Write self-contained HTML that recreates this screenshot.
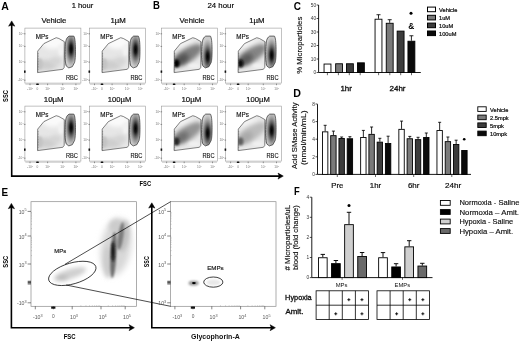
<!DOCTYPE html>
<html><head><meta charset="utf-8"><title>Figure</title>
<style>
html,body{margin:0;padding:0;background:#fff;}
body{width:520px;height:342px;overflow:hidden;}
svg{display:block;will-change:transform;}
text{font-family:"Liberation Sans",sans-serif;}
</style></head>
<body>
<svg width="520" height="342" viewBox="0 0 520 342">
<rect width="520" height="342" fill="#fff"/>

<defs>
 <filter id="b05" x="-50%" y="-50%" width="200%" height="200%"><feGaussianBlur stdDeviation="0.5"/></filter>
 <filter id="b1" x="-50%" y="-50%" width="200%" height="200%"><feGaussianBlur stdDeviation="1"/></filter>
 <filter id="b2" x="-50%" y="-50%" width="200%" height="200%"><feGaussianBlur stdDeviation="2"/></filter>
 <filter id="b3" x="-50%" y="-50%" width="200%" height="200%"><feGaussianBlur stdDeviation="3"/></filter>
 <clipPath id="mpclip"><polygon points="12.8,23 19,15.5 31.3,9.6 34,10.4 39.4,13.5 39.3,39.3 37.9,41.2 12.6,44.5"/></clipPath>
 <g id="axes">
  <rect x="0" y="0" width="56" height="55" fill="none" stroke="#9a9a9a" stroke-width="0.6"/>
  <path d="M0.5,56.2 H55.5" stroke="#b0b0b0" stroke-width="0.6"/>
  <g stroke="#555" stroke-width="0.6">
   <path d="M-1,5.7h1.6M-1,18.3h1.6M-1,34h1.6M-1,52.1h1.6M5.1,55.5v1.6M22.7,55.5v1.6M37.8,55.5v1.6M51,55.5v1.6"/>
  </g>
  <rect x="-0.9" y="42.4" width="1.6" height="2.3" fill="#111"/>
  <rect x="11.3" y="55.4" width="2.6" height="1.6" rx="0.5" fill="#111"/>
  <g font-size="3.2" fill="#777" text-anchor="end">
   <text x="-1.4" y="6.8">10<tspan font-size="2" dy="-1.2">5</tspan></text>
   <text x="-1.4" y="19.4">10<tspan font-size="2" dy="-1.2">4</tspan></text>
   <text x="-1.4" y="35.1">10<tspan font-size="2" dy="-1.2">3</tspan></text>
   <text x="-1.4" y="53.2">-10<tspan font-size="2" dy="-1.2">3</tspan></text>
  </g>
  <g font-size="3.2" fill="#777" text-anchor="middle">
   <text x="5.1" y="62">-10<tspan font-size="2" dy="-1.2">3</tspan></text>
   <text x="12.6" y="61.5">0</text>
   <text x="22.7" y="62">10<tspan font-size="2" dy="-1.2">3</tspan></text>
   <text x="37.8" y="62">10<tspan font-size="2" dy="-1.2">4</tspan></text>
   <text x="51" y="62">10<tspan font-size="2" dy="-1.2">5</tspan></text>
  </g>
  <text x="10.8" y="10.9" font-size="6.5" fill="#111" stroke="#111" stroke-width="0.15" textLength="12.6" lengthAdjust="spacingAndGlyphs">MPs</text>
  <text x="41.0" y="52.2" font-size="6.6" fill="#111" stroke="#111" stroke-width="0.12" textLength="12" lengthAdjust="spacingAndGlyphs">RBC</text>
 </g>
</defs>

<text x="1.2" y="9.7" font-size="11.7" text-anchor="start" font-weight="bold" fill="#000" textLength="7.6" lengthAdjust="spacingAndGlyphs" >A</text>
<text x="153.0" y="9.4" font-size="11.7" text-anchor="start" font-weight="bold" fill="#000" textLength="6.9" lengthAdjust="spacingAndGlyphs" >B</text>
<text x="71.7" y="8.2" font-size="7.9" text-anchor="start" font-weight="normal" fill="#000" textLength="21.5" lengthAdjust="spacingAndGlyphs" stroke="#000" stroke-width="0.15">1 hour</text>
<text x="207.5" y="8.2" font-size="7.9" text-anchor="start" font-weight="normal" fill="#000" textLength="26.5" lengthAdjust="spacingAndGlyphs" stroke="#000" stroke-width="0.15">24 hour</text>
<defs><clipPath id="rbcclip"><path d="M44.2,8 L48.9,8 C50,9.5 50.5,14 50.6,21.4 C50.6,28 50.3,32 49.7,34.3 L47.4,38.6 L43.9,39.8 L41.4,38 C40.5,35 40,31 40,27.3 C40,22 40.3,17 40.7,14.4 C41.1,11.5 41.9,10 42.9,9 Z"/></clipPath></defs>
<g transform="translate(24.9 28.1)">
<use href="#axes"/>
<g clip-path="url(#mpclip)">
<rect x="10" y="8" width="32" height="38" fill="#e6e6e6"/>
<ellipse cx="28" cy="14" rx="12" ry="7" fill="#fafafa" filter="url(#b2)"/>
<ellipse cx="21" cy="37" rx="11" ry="5" fill="#cdcdcd" filter="url(#b2)"/>
<ellipse cx="15" cy="36" rx="3" ry="6" fill="#c4c4c4" filter="url(#b1)"/>
<ellipse cx="31" cy="33" rx="6" ry="4" fill="#d4d4d4" filter="url(#b2)"/>
<ellipse cx="36" cy="22" rx="3" ry="6" fill="#f2f2f2" filter="url(#b1)"/>
</g>
<polygon points="12.8,23 19,15.5 31.3,9.6 34,10.4 39.4,13.5 39.3,39.3 37.9,41.2 12.6,44.5" fill="none" stroke="#333" stroke-width="0.6"/>
<path d="M13.2,25 V44" stroke="#666" stroke-width="0.7" stroke-dasharray="0.8 0.8"/>
<radialGradient id="rg1" cx="46.2" cy="20.7" r="16" gradientUnits="userSpaceOnUse" gradientTransform="translate(46.2 20.7) scale(0.4 1.1) translate(-46.2 -20.7)"><stop offset="0" stop-color="#000"/><stop offset="0.22" stop-color="#1a1a1a"/><stop offset="0.45" stop-color="#5e5e5e"/><stop offset="0.68" stop-color="#959595"/><stop offset="0.85" stop-color="#b4b4b4"/><stop offset="1" stop-color="#cccccc"/></radialGradient>
<g clip-path="url(#rbcclip)"><rect x="38" y="5" width="16" height="38" fill="url(#rg1)"/></g>
<path d="M44.2,8 L48.9,8 C50,9.5 50.5,14 50.6,21.4 C50.6,28 50.3,32 49.7,34.3 L47.4,38.6 L43.9,39.8 L41.4,38 C40.5,35 40,31 40,27.3 C40,22 40.3,17 40.7,14.4 C41.1,11.5 41.9,10 42.9,9 Z" fill="none" stroke="#222" stroke-width="0.65"/>
<path d="M40.5,14 V37" stroke="#555" stroke-width="0.6" stroke-dasharray="0.8 0.8"/>
</g>
<g transform="translate(24.9 106.1)">
<use href="#axes"/>
<g clip-path="url(#mpclip)">
<rect x="10" y="8" width="32" height="38" fill="#e6e6e6"/>
<ellipse cx="28" cy="14" rx="12" ry="7" fill="#fafafa" filter="url(#b2)"/>
<ellipse cx="21" cy="37" rx="11" ry="5" fill="#cdcdcd" filter="url(#b2)"/>
<ellipse cx="15" cy="36" rx="3" ry="6" fill="#c4c4c4" filter="url(#b1)"/>
<ellipse cx="31" cy="33" rx="6" ry="4" fill="#d4d4d4" filter="url(#b2)"/>
<ellipse cx="36" cy="22" rx="3" ry="6" fill="#f2f2f2" filter="url(#b1)"/>
</g>
<polygon points="12.8,23 19,15.5 31.3,9.6 34,10.4 39.4,13.5 39.3,39.3 37.9,41.2 12.6,44.5" fill="none" stroke="#333" stroke-width="0.6"/>
<path d="M13.2,25 V44" stroke="#666" stroke-width="0.7" stroke-dasharray="0.8 0.8"/>
<radialGradient id="rg2" cx="46.2" cy="21.5" r="16" gradientUnits="userSpaceOnUse" gradientTransform="translate(46.2 21.5) scale(0.4 1.1) translate(-46.2 -21.5)"><stop offset="0" stop-color="#000"/><stop offset="0.22" stop-color="#1a1a1a"/><stop offset="0.45" stop-color="#5e5e5e"/><stop offset="0.68" stop-color="#959595"/><stop offset="0.85" stop-color="#b4b4b4"/><stop offset="1" stop-color="#cccccc"/></radialGradient>
<g clip-path="url(#rbcclip)"><rect x="38" y="5" width="16" height="38" fill="url(#rg2)"/></g>
<path d="M44.2,8 L48.9,8 C50,9.5 50.5,14 50.6,21.4 C50.6,28 50.3,32 49.7,34.3 L47.4,38.6 L43.9,39.8 L41.4,38 C40.5,35 40,31 40,27.3 C40,22 40.3,17 40.7,14.4 C41.1,11.5 41.9,10 42.9,9 Z" fill="none" stroke="#222" stroke-width="0.65"/>
<path d="M40.5,14 V37" stroke="#555" stroke-width="0.6" stroke-dasharray="0.8 0.8"/>
</g>
<g transform="translate(89.4 28.1)">
<use href="#axes"/>
<g clip-path="url(#mpclip)">
<rect x="10" y="8" width="32" height="38" fill="#e6e6e6"/>
<ellipse cx="28" cy="14" rx="12" ry="7" fill="#fafafa" filter="url(#b2)"/>
<ellipse cx="21" cy="37" rx="11" ry="5" fill="#cdcdcd" filter="url(#b2)"/>
<ellipse cx="15" cy="36" rx="3" ry="6" fill="#c4c4c4" filter="url(#b1)"/>
<ellipse cx="31" cy="33" rx="6" ry="4" fill="#d4d4d4" filter="url(#b2)"/>
<ellipse cx="36" cy="22" rx="3" ry="6" fill="#f2f2f2" filter="url(#b1)"/>
</g>
<polygon points="12.8,23 19,15.5 31.3,9.6 34,10.4 39.4,13.5 39.3,39.3 37.9,41.2 12.6,44.5" fill="none" stroke="#333" stroke-width="0.6"/>
<path d="M13.2,25 V44" stroke="#666" stroke-width="0.7" stroke-dasharray="0.8 0.8"/>
<radialGradient id="rg3" cx="46.2" cy="21.5" r="16" gradientUnits="userSpaceOnUse" gradientTransform="translate(46.2 21.5) scale(0.4 1.1) translate(-46.2 -21.5)"><stop offset="0" stop-color="#000"/><stop offset="0.22" stop-color="#1a1a1a"/><stop offset="0.45" stop-color="#5e5e5e"/><stop offset="0.68" stop-color="#959595"/><stop offset="0.85" stop-color="#b4b4b4"/><stop offset="1" stop-color="#cccccc"/></radialGradient>
<g clip-path="url(#rbcclip)"><rect x="38" y="5" width="16" height="38" fill="url(#rg3)"/></g>
<path d="M44.2,8 L48.9,8 C50,9.5 50.5,14 50.6,21.4 C50.6,28 50.3,32 49.7,34.3 L47.4,38.6 L43.9,39.8 L41.4,38 C40.5,35 40,31 40,27.3 C40,22 40.3,17 40.7,14.4 C41.1,11.5 41.9,10 42.9,9 Z" fill="none" stroke="#222" stroke-width="0.65"/>
<path d="M40.5,14 V37" stroke="#555" stroke-width="0.6" stroke-dasharray="0.8 0.8"/>
</g>
<g transform="translate(89.4 106.1)">
<use href="#axes"/>
<g clip-path="url(#mpclip)">
<rect x="10" y="8" width="32" height="38" fill="#e6e6e6"/>
<ellipse cx="28" cy="14" rx="12" ry="7" fill="#fafafa" filter="url(#b2)"/>
<ellipse cx="21" cy="37" rx="11" ry="5" fill="#cdcdcd" filter="url(#b2)"/>
<ellipse cx="15" cy="36" rx="3" ry="6" fill="#c4c4c4" filter="url(#b1)"/>
<ellipse cx="31" cy="33" rx="6" ry="4" fill="#d4d4d4" filter="url(#b2)"/>
<ellipse cx="36" cy="22" rx="3" ry="6" fill="#f2f2f2" filter="url(#b1)"/>
</g>
<polygon points="12.8,23 19,15.5 31.3,9.6 34,10.4 39.4,13.5 39.3,39.3 37.9,41.2 12.6,44.5" fill="none" stroke="#333" stroke-width="0.6"/>
<path d="M13.2,25 V44" stroke="#666" stroke-width="0.7" stroke-dasharray="0.8 0.8"/>
<radialGradient id="rg4" cx="46.2" cy="22.5" r="16" gradientUnits="userSpaceOnUse" gradientTransform="translate(46.2 22.5) scale(0.4 1.1) translate(-46.2 -22.5)"><stop offset="0" stop-color="#000"/><stop offset="0.22" stop-color="#1a1a1a"/><stop offset="0.45" stop-color="#5e5e5e"/><stop offset="0.68" stop-color="#959595"/><stop offset="0.85" stop-color="#b4b4b4"/><stop offset="1" stop-color="#cccccc"/></radialGradient>
<g clip-path="url(#rbcclip)"><rect x="38" y="5" width="16" height="38" fill="url(#rg4)"/></g>
<path d="M44.2,8 L48.9,8 C50,9.5 50.5,14 50.6,21.4 C50.6,28 50.3,32 49.7,34.3 L47.4,38.6 L43.9,39.8 L41.4,38 C40.5,35 40,31 40,27.3 C40,22 40.3,17 40.7,14.4 C41.1,11.5 41.9,10 42.9,9 Z" fill="none" stroke="#222" stroke-width="0.65"/>
<path d="M40.5,14 V37" stroke="#555" stroke-width="0.6" stroke-dasharray="0.8 0.8"/>
</g>
<g transform="translate(161.5 28.1)">
<use href="#axes"/>
<g clip-path="url(#mpclip)">
<rect x="10" y="8" width="32" height="38" fill="#e8e8e8"/>
<ellipse cx="23" cy="16" rx="10" ry="5" fill="#f2f2f2" filter="url(#b2)"/>
<ellipse cx="26" cy="27" rx="17" ry="7" fill="#7f7f7f" filter="url(#b2)" transform="rotate(-33 26 27)"/>
<ellipse cx="20" cy="31.5" rx="8" ry="4.5" fill="#525252" filter="url(#b2)" transform="rotate(-35 20 31.5)"/>
<ellipse cx="15" cy="35.5" rx="3" ry="4" fill="#000000" filter="url(#b1)"/>
<ellipse cx="33" cy="38" rx="6" ry="2.5" fill="#f0f0f0" filter="url(#b1)"/>
</g>
<polygon points="12.8,23 19,15.5 31.3,9.6 34,10.4 39.4,13.5 39.3,39.3 37.9,41.2 12.6,44.5" fill="none" stroke="#333" stroke-width="0.6"/>
<path d="M13.2,25 V44" stroke="#666" stroke-width="0.7" stroke-dasharray="0.8 0.8"/>
<radialGradient id="rg5" cx="46.2" cy="28.5" r="16" gradientUnits="userSpaceOnUse" gradientTransform="translate(46.2 28.5) scale(0.4 1.1) translate(-46.2 -28.5)"><stop offset="0" stop-color="#000"/><stop offset="0.22" stop-color="#1a1a1a"/><stop offset="0.45" stop-color="#5e5e5e"/><stop offset="0.68" stop-color="#959595"/><stop offset="0.85" stop-color="#b4b4b4"/><stop offset="1" stop-color="#cccccc"/></radialGradient>
<g clip-path="url(#rbcclip)"><rect x="38" y="5" width="16" height="38" fill="url(#rg5)"/></g>
<path d="M44.2,8 L48.9,8 C50,9.5 50.5,14 50.6,21.4 C50.6,28 50.3,32 49.7,34.3 L47.4,38.6 L43.9,39.8 L41.4,38 C40.5,35 40,31 40,27.3 C40,22 40.3,17 40.7,14.4 C41.1,11.5 41.9,10 42.9,9 Z" fill="none" stroke="#222" stroke-width="0.65"/>
<path d="M40.5,14 V37" stroke="#555" stroke-width="0.6" stroke-dasharray="0.8 0.8"/>
</g>
<g transform="translate(161.5 106.1)">
<use href="#axes"/>
<g clip-path="url(#mpclip)">
<rect x="10" y="8" width="32" height="38" fill="#e8e8e8"/>
<ellipse cx="23" cy="16" rx="10" ry="5" fill="#f2f2f2" filter="url(#b2)"/>
<ellipse cx="26" cy="27" rx="17" ry="7" fill="#949494" filter="url(#b2)" transform="rotate(-33 26 27)"/>
<ellipse cx="20" cy="31.5" rx="8" ry="4.5" fill="#707070" filter="url(#b2)" transform="rotate(-35 20 31.5)"/>
<ellipse cx="15" cy="35.5" rx="3" ry="4" fill="#262626" filter="url(#b1)"/>
<ellipse cx="33" cy="38" rx="6" ry="2.5" fill="#f0f0f0" filter="url(#b1)"/>
</g>
<polygon points="12.8,23 19,15.5 31.3,9.6 34,10.4 39.4,13.5 39.3,39.3 37.9,41.2 12.6,44.5" fill="none" stroke="#333" stroke-width="0.6"/>
<path d="M13.2,25 V44" stroke="#666" stroke-width="0.7" stroke-dasharray="0.8 0.8"/>
<radialGradient id="rg6" cx="46.2" cy="27" r="16" gradientUnits="userSpaceOnUse" gradientTransform="translate(46.2 27) scale(0.4 1.1) translate(-46.2 -27)"><stop offset="0" stop-color="#000"/><stop offset="0.22" stop-color="#1a1a1a"/><stop offset="0.45" stop-color="#5e5e5e"/><stop offset="0.68" stop-color="#959595"/><stop offset="0.85" stop-color="#b4b4b4"/><stop offset="1" stop-color="#cccccc"/></radialGradient>
<g clip-path="url(#rbcclip)"><rect x="38" y="5" width="16" height="38" fill="url(#rg6)"/></g>
<path d="M44.2,8 L48.9,8 C50,9.5 50.5,14 50.6,21.4 C50.6,28 50.3,32 49.7,34.3 L47.4,38.6 L43.9,39.8 L41.4,38 C40.5,35 40,31 40,27.3 C40,22 40.3,17 40.7,14.4 C41.1,11.5 41.9,10 42.9,9 Z" fill="none" stroke="#222" stroke-width="0.65"/>
<path d="M40.5,14 V37" stroke="#555" stroke-width="0.6" stroke-dasharray="0.8 0.8"/>
</g>
<g transform="translate(225.5 28.1)">
<use href="#axes"/>
<g clip-path="url(#mpclip)">
<rect x="10" y="8" width="32" height="38" fill="#e8e8e8"/>
<ellipse cx="23" cy="16" rx="10" ry="5" fill="#f2f2f2" filter="url(#b2)"/>
<ellipse cx="26" cy="27" rx="17" ry="7" fill="#848484" filter="url(#b2)" transform="rotate(-33 26 27)"/>
<ellipse cx="20" cy="31.5" rx="8" ry="4.5" fill="#5a5a5a" filter="url(#b2)" transform="rotate(-35 20 31.5)"/>
<ellipse cx="15" cy="35.5" rx="3" ry="4" fill="#0a0a0a" filter="url(#b1)"/>
<ellipse cx="33" cy="38" rx="6" ry="2.5" fill="#f0f0f0" filter="url(#b1)"/>
</g>
<polygon points="12.8,23 19,15.5 31.3,9.6 34,10.4 39.4,13.5 39.3,39.3 37.9,41.2 12.6,44.5" fill="none" stroke="#333" stroke-width="0.6"/>
<path d="M13.2,25 V44" stroke="#666" stroke-width="0.7" stroke-dasharray="0.8 0.8"/>
<radialGradient id="rg7" cx="46.2" cy="27" r="16" gradientUnits="userSpaceOnUse" gradientTransform="translate(46.2 27) scale(0.4 1.1) translate(-46.2 -27)"><stop offset="0" stop-color="#000"/><stop offset="0.22" stop-color="#1a1a1a"/><stop offset="0.45" stop-color="#5e5e5e"/><stop offset="0.68" stop-color="#959595"/><stop offset="0.85" stop-color="#b4b4b4"/><stop offset="1" stop-color="#cccccc"/></radialGradient>
<g clip-path="url(#rbcclip)"><rect x="38" y="5" width="16" height="38" fill="url(#rg7)"/></g>
<path d="M44.2,8 L48.9,8 C50,9.5 50.5,14 50.6,21.4 C50.6,28 50.3,32 49.7,34.3 L47.4,38.6 L43.9,39.8 L41.4,38 C40.5,35 40,31 40,27.3 C40,22 40.3,17 40.7,14.4 C41.1,11.5 41.9,10 42.9,9 Z" fill="none" stroke="#222" stroke-width="0.65"/>
<path d="M40.5,14 V37" stroke="#555" stroke-width="0.6" stroke-dasharray="0.8 0.8"/>
</g>
<g transform="translate(225.5 106.1)">
<use href="#axes"/>
<g clip-path="url(#mpclip)">
<rect x="10" y="8" width="32" height="38" fill="#e8e8e8"/>
<ellipse cx="23" cy="16" rx="10" ry="5" fill="#f2f2f2" filter="url(#b2)"/>
<ellipse cx="26" cy="27" rx="17" ry="7" fill="#bcbcbc" filter="url(#b2)" transform="rotate(-33 26 27)"/>
<ellipse cx="20" cy="31.5" rx="8" ry="4.5" fill="#a9a9a9" filter="url(#b2)" transform="rotate(-35 20 31.5)"/>
<ellipse cx="15" cy="35.5" rx="3" ry="4" fill="#5f5f5f" filter="url(#b1)"/>
<ellipse cx="33" cy="38" rx="6" ry="2.5" fill="#f0f0f0" filter="url(#b1)"/>
</g>
<polygon points="12.8,23 19,15.5 31.3,9.6 34,10.4 39.4,13.5 39.3,39.3 37.9,41.2 12.6,44.5" fill="none" stroke="#333" stroke-width="0.6"/>
<path d="M13.2,25 V44" stroke="#666" stroke-width="0.7" stroke-dasharray="0.8 0.8"/>
<radialGradient id="rg8" cx="46.2" cy="24.3" r="16" gradientUnits="userSpaceOnUse" gradientTransform="translate(46.2 24.3) scale(0.4 1.1) translate(-46.2 -24.3)"><stop offset="0" stop-color="#000"/><stop offset="0.22" stop-color="#1a1a1a"/><stop offset="0.45" stop-color="#5e5e5e"/><stop offset="0.68" stop-color="#959595"/><stop offset="0.85" stop-color="#b4b4b4"/><stop offset="1" stop-color="#cccccc"/></radialGradient>
<g clip-path="url(#rbcclip)"><rect x="38" y="5" width="16" height="38" fill="url(#rg8)"/></g>
<path d="M44.2,8 L48.9,8 C50,9.5 50.5,14 50.6,21.4 C50.6,28 50.3,32 49.7,34.3 L47.4,38.6 L43.9,39.8 L41.4,38 C40.5,35 40,31 40,27.3 C40,22 40.3,17 40.7,14.4 C41.1,11.5 41.9,10 42.9,9 Z" fill="none" stroke="#222" stroke-width="0.65"/>
<path d="M40.5,14 V37" stroke="#555" stroke-width="0.6" stroke-dasharray="0.8 0.8"/>
</g>
<text x="53.9" y="23.2" font-size="7.5" text-anchor="middle" font-weight="normal" fill="#111" textLength="25" lengthAdjust="spacingAndGlyphs" stroke="#111" stroke-width="0.2">Vehicle</text>
<text x="53.7" y="101.8" font-size="7.5" text-anchor="middle" font-weight="normal" fill="#111" textLength="19.8" lengthAdjust="spacingAndGlyphs" stroke="#111" stroke-width="0.2">10&#181;M</text>
<text x="118.1" y="23.2" font-size="7.5" text-anchor="middle" font-weight="normal" fill="#111" textLength="15.4" lengthAdjust="spacingAndGlyphs" stroke="#111" stroke-width="0.2">1&#181;M</text>
<text x="119.5" y="101.8" font-size="7.5" text-anchor="middle" font-weight="normal" fill="#111" textLength="23.5" lengthAdjust="spacingAndGlyphs" stroke="#111" stroke-width="0.2">100&#181;M</text>
<text x="192.1" y="23.2" font-size="7.5" text-anchor="middle" font-weight="normal" fill="#111" textLength="25" lengthAdjust="spacingAndGlyphs" stroke="#111" stroke-width="0.2">Vehicle</text>
<text x="191.4" y="101.8" font-size="7.5" text-anchor="middle" font-weight="normal" fill="#111" textLength="19.8" lengthAdjust="spacingAndGlyphs" stroke="#111" stroke-width="0.2">10&#181;M</text>
<text x="256.9" y="23.2" font-size="7.5" text-anchor="middle" font-weight="normal" fill="#111" textLength="15.4" lengthAdjust="spacingAndGlyphs" stroke="#111" stroke-width="0.2">1&#181;M</text>
<text x="258.0" y="101.8" font-size="7.5" text-anchor="middle" font-weight="normal" fill="#111" textLength="23.5" lengthAdjust="spacingAndGlyphs" stroke="#111" stroke-width="0.2">100&#181;M</text>
<path d="M11.7,24 V176.1 H280" fill="none" stroke="#000" stroke-width="1.6"/>
<path d="M11.7,20.9 L14.799999999999999,26.2 L11.7,25.0 L8.6,26.2 Z" fill="#000" stroke="#000" stroke-width="0.5" stroke-linejoin="round"/>
<path d="M283.3,176.1 L278.0,173.1 L279.2,176.1 L278.0,179.1 Z" fill="#000" stroke="#000" stroke-width="0.5" stroke-linejoin="round"/>
<text x="8.3" y="96" font-size="8" text-anchor="middle" font-weight="bold" fill="#000" textLength="11.8" lengthAdjust="spacingAndGlyphs" transform="rotate(-90 8.3 96)" >SSC</text>
<text x="145.35" y="185.7" font-size="8" text-anchor="middle" font-weight="bold" fill="#000" textLength="11.5" lengthAdjust="spacingAndGlyphs" >FSC</text>
<text x="293.7" y="9.7" font-size="11.7" text-anchor="start" font-weight="bold" fill="#000" textLength="7.2" lengthAdjust="spacingAndGlyphs" >C</text>
<path d="M318.6,5 V72.5 H420.8" fill="none" stroke="#000" stroke-width="0.9"/>
<path d="M316.6,72.50 H318.6" stroke="#000" stroke-width="0.7"/>
<text x="316.2" y="74.2" font-size="4.8" text-anchor="end" font-weight="normal" fill="#333" >0</text>
<path d="M316.6,59.00 H318.6" stroke="#000" stroke-width="0.7"/>
<text x="316.2" y="60.7" font-size="4.8" text-anchor="end" font-weight="normal" fill="#333" >10</text>
<path d="M316.6,45.50 H318.6" stroke="#000" stroke-width="0.7"/>
<text x="316.2" y="47.2" font-size="4.8" text-anchor="end" font-weight="normal" fill="#333" >20</text>
<path d="M316.6,32.00 H318.6" stroke="#000" stroke-width="0.7"/>
<text x="316.2" y="33.7" font-size="4.8" text-anchor="end" font-weight="normal" fill="#333" >30</text>
<path d="M316.6,18.50 H318.6" stroke="#000" stroke-width="0.7"/>
<text x="316.2" y="20.2" font-size="4.8" text-anchor="end" font-weight="normal" fill="#333" >40</text>
<path d="M316.6,5.00 H318.6" stroke="#000" stroke-width="0.7"/>
<text x="316.2" y="6.7" font-size="4.8" text-anchor="end" font-weight="normal" fill="#333" >50</text>
<text x="302.3" y="45.2" font-size="7.2" text-anchor="middle" font-weight="normal" fill="#111" textLength="57" lengthAdjust="spacingAndGlyphs" transform="rotate(-90 302.3 45.2)" stroke="#111" stroke-width="0.15">% Microparticles</text>
<rect x="324.05" y="64.04" width="6.90" height="8.46" fill="#fff" stroke="#000" stroke-width="0.9"/>
<rect x="335.65" y="63.77" width="6.90" height="8.73" fill="#7a7a7a" stroke="#000" stroke-width="0.9"/>
<rect x="346.45" y="63.77" width="6.90" height="8.73" fill="#3c3c3c" stroke="#000" stroke-width="0.9"/>
<rect x="357.45" y="62.83" width="6.90" height="9.68" fill="#0a0a0a" stroke="#000" stroke-width="0.9"/>
<path d="M378.50,18.77 V14.72 M376.50,14.72 H380.50" stroke="#000" stroke-width="0.85"/>
<rect x="375.05" y="19.22" width="6.90" height="53.28" fill="#fff" stroke="#000" stroke-width="0.9"/>
<path d="M389.70,22.82 V19.71 M387.70,19.71 H391.70" stroke="#000" stroke-width="0.85"/>
<rect x="386.25" y="23.27" width="6.90" height="49.23" fill="#7a7a7a" stroke="#000" stroke-width="0.9"/>
<rect x="397.15" y="31.10" width="6.90" height="41.40" fill="#3c3c3c" stroke="#000" stroke-width="0.9"/>
<path d="M411.40,40.77 V35.78 M409.40,35.78 H413.40" stroke="#000" stroke-width="0.85"/>
<rect x="407.95" y="41.23" width="6.90" height="31.28" fill="#0a0a0a" stroke="#000" stroke-width="0.9"/>
<path d="M327.4,72.5 V75.2" stroke="#000" stroke-width="0.6"/>
<path d="M338.4,72.5 V75.2" stroke="#000" stroke-width="0.6"/>
<path d="M349.3,72.5 V75.2" stroke="#000" stroke-width="0.6"/>
<path d="M360.2,72.5 V75.2" stroke="#000" stroke-width="0.6"/>
<path d="M378.6,72.5 V75.2" stroke="#000" stroke-width="0.6"/>
<path d="M389.8,72.5 V75.2" stroke="#000" stroke-width="0.6"/>
<path d="M400.7,72.5 V75.2" stroke="#000" stroke-width="0.6"/>
<path d="M411.5,72.5 V75.2" stroke="#000" stroke-width="0.6"/>
<circle cx="411" cy="13.3" r="1.5" fill="#000"/>
<text x="411.2" y="29.1" font-size="8.4" text-anchor="middle" font-weight="bold" fill="#000" >&amp;</text>
<text x="346.2" y="91" font-size="7" text-anchor="middle" font-weight="normal" fill="#111" textLength="11.5" lengthAdjust="spacingAndGlyphs" stroke="#111" stroke-width="0.3">1hr</text>
<text x="397.5" y="91" font-size="7" text-anchor="middle" font-weight="normal" fill="#111" textLength="16" lengthAdjust="spacingAndGlyphs" stroke="#111" stroke-width="0.3">24hr</text>
<rect x="427.5" y="7.10" width="8" height="4.6" fill="#fff" stroke="#000" stroke-width="1"/>
<text x="439" y="11.8" font-size="5.7" text-anchor="start" font-weight="normal" fill="#111" stroke="#111" stroke-width="0.22">Vehicle</text>
<rect x="427.5" y="15.30" width="8" height="4.6" fill="#7a7a7a" stroke="#000" stroke-width="1"/>
<text x="439" y="20.0" font-size="5.7" text-anchor="start" font-weight="normal" fill="#111" stroke="#111" stroke-width="0.22">1uM</text>
<rect x="427.5" y="23.10" width="8" height="4.6" fill="#3c3c3c" stroke="#000" stroke-width="1"/>
<text x="439" y="27.799999999999997" font-size="5.7" text-anchor="start" font-weight="normal" fill="#111" stroke="#111" stroke-width="0.22">10uM</text>
<rect x="427.5" y="31.00" width="8" height="4.6" fill="#0a0a0a" stroke="#000" stroke-width="1"/>
<text x="439" y="35.699999999999996" font-size="5.7" text-anchor="start" font-weight="normal" fill="#111" stroke="#111" stroke-width="0.22">100uM</text>
<text x="293.2" y="96.5" font-size="11.7" text-anchor="start" font-weight="bold" fill="#000" textLength="7.7" lengthAdjust="spacingAndGlyphs" >D</text>
<path d="M317.5,104.2 V174.4 H471" fill="none" stroke="#000" stroke-width="0.9"/>
<path d="M315.5,174.40 H317.5" stroke="#000" stroke-width="0.7"/>
<text x="315.0" y="176.1" font-size="4.8" text-anchor="end" font-weight="normal" fill="#333" >0</text>
<path d="M315.5,156.80 H317.5" stroke="#000" stroke-width="0.7"/>
<text x="315.0" y="158.5" font-size="4.8" text-anchor="end" font-weight="normal" fill="#333" >2</text>
<path d="M315.5,139.20 H317.5" stroke="#000" stroke-width="0.7"/>
<text x="315.0" y="140.89999999999998" font-size="4.8" text-anchor="end" font-weight="normal" fill="#333" >4</text>
<path d="M315.5,121.60 H317.5" stroke="#000" stroke-width="0.7"/>
<text x="315.0" y="123.3" font-size="4.8" text-anchor="end" font-weight="normal" fill="#333" >6</text>
<path d="M315.5,104.00 H317.5" stroke="#000" stroke-width="0.7"/>
<text x="315.0" y="105.7" font-size="4.8" text-anchor="end" font-weight="normal" fill="#333" >8</text>
<text x="297.4" y="135.8" font-size="7.2" text-anchor="middle" font-weight="normal" fill="#111" textLength="66.6" lengthAdjust="spacingAndGlyphs" transform="rotate(-90 297.4 135.8)" stroke="#111" stroke-width="0.15">Acid SMase Activity</text>
<text x="305.8" y="137.75" font-size="7.2" text-anchor="middle" font-weight="normal" fill="#111" textLength="54.7" lengthAdjust="spacingAndGlyphs" transform="rotate(-90 305.8 137.75)" stroke="#111" stroke-width="0.15">(nmol/min/mL)</text>
<path d="M325.15,131.40 V125.30 M323.65,125.30 H326.65" stroke="#000" stroke-width="0.85"/>
<rect x="322.45" y="131.85" width="5.40" height="42.55" fill="#fff" stroke="#000" stroke-width="0.9"/>
<path d="M333.40,135.20 V131.10 M331.90,131.10 H334.90" stroke="#000" stroke-width="0.85"/>
<rect x="330.70" y="135.65" width="5.40" height="38.75" fill="#7a7a7a" stroke="#000" stroke-width="0.9"/>
<path d="M341.65,138.00 V137.00 M340.15,137.00 H343.15" stroke="#000" stroke-width="0.85"/>
<rect x="338.95" y="138.45" width="5.40" height="35.95" fill="#3c3c3c" stroke="#000" stroke-width="0.9"/>
<path d="M349.90,138.30 V136.70 M348.40,136.70 H351.40" stroke="#000" stroke-width="0.85"/>
<rect x="347.20" y="138.75" width="5.40" height="35.65" fill="#0a0a0a" stroke="#000" stroke-width="0.9"/>
<path d="M363.35,137.00 V130.40 M361.85,130.40 H364.85" stroke="#000" stroke-width="0.85"/>
<rect x="360.65" y="137.45" width="5.40" height="36.95" fill="#fff" stroke="#000" stroke-width="0.9"/>
<path d="M371.60,133.90 V127.00 M370.10,127.00 H373.10" stroke="#000" stroke-width="0.85"/>
<rect x="368.90" y="134.35" width="5.40" height="40.05" fill="#7a7a7a" stroke="#000" stroke-width="0.9"/>
<path d="M379.85,141.70 V138.30 M378.35,138.30 H381.35" stroke="#000" stroke-width="0.85"/>
<rect x="377.15" y="142.15" width="5.40" height="32.25" fill="#3c3c3c" stroke="#000" stroke-width="0.9"/>
<path d="M388.10,143.00 V136.20 M386.60,136.20 H389.60" stroke="#000" stroke-width="0.85"/>
<rect x="385.40" y="143.45" width="5.40" height="30.95" fill="#0a0a0a" stroke="#000" stroke-width="0.9"/>
<path d="M401.55,128.90 V121.10 M400.05,121.10 H403.05" stroke="#000" stroke-width="0.85"/>
<rect x="398.85" y="129.35" width="5.40" height="45.05" fill="#fff" stroke="#000" stroke-width="0.9"/>
<path d="M409.80,138.30 V136.40 M408.30,136.40 H411.30" stroke="#000" stroke-width="0.85"/>
<rect x="407.10" y="138.75" width="5.40" height="35.65" fill="#7a7a7a" stroke="#000" stroke-width="0.9"/>
<path d="M418.05,139.20 V137.30 M416.55,137.30 H419.55" stroke="#000" stroke-width="0.85"/>
<rect x="415.35" y="139.65" width="5.40" height="34.75" fill="#3c3c3c" stroke="#000" stroke-width="0.9"/>
<path d="M426.30,137.00 V133.00 M424.80,133.00 H427.80" stroke="#000" stroke-width="0.85"/>
<rect x="423.60" y="137.45" width="5.40" height="36.95" fill="#0a0a0a" stroke="#000" stroke-width="0.9"/>
<path d="M439.65,130.10 V122.30 M438.15,122.30 H441.15" stroke="#000" stroke-width="0.85"/>
<rect x="436.95" y="130.55" width="5.40" height="43.85" fill="#fff" stroke="#000" stroke-width="0.9"/>
<path d="M447.90,141.20 V137.00 M446.40,137.00 H449.40" stroke="#000" stroke-width="0.85"/>
<rect x="445.20" y="141.65" width="5.40" height="32.75" fill="#7a7a7a" stroke="#000" stroke-width="0.9"/>
<path d="M456.15,144.00 V140.20 M454.65,140.20 H457.65" stroke="#000" stroke-width="0.85"/>
<rect x="453.45" y="144.45" width="5.40" height="29.95" fill="#3c3c3c" stroke="#000" stroke-width="0.9"/>
<rect x="461.70" y="150.45" width="5.40" height="23.95" fill="#0a0a0a" stroke="#000" stroke-width="0.9"/>
<path d="M337.30,174.4 V177" stroke="#000" stroke-width="0.6"/>
<text x="337.3" y="187.6" font-size="7.3" text-anchor="middle" font-weight="normal" fill="#111" textLength="12" lengthAdjust="spacingAndGlyphs" stroke="#111" stroke-width="0.2">Pre</text>
<path d="M375.50,174.4 V177" stroke="#000" stroke-width="0.6"/>
<text x="375.5" y="187.6" font-size="7.3" text-anchor="middle" font-weight="normal" fill="#111" textLength="11.3" lengthAdjust="spacingAndGlyphs" stroke="#111" stroke-width="0.2">1hr</text>
<path d="M413.70,174.4 V177" stroke="#000" stroke-width="0.6"/>
<text x="413.7" y="187.6" font-size="7.3" text-anchor="middle" font-weight="normal" fill="#111" textLength="11.5" lengthAdjust="spacingAndGlyphs" stroke="#111" stroke-width="0.2">6hr</text>
<path d="M451.80,174.4 V177" stroke="#000" stroke-width="0.6"/>
<text x="453.0" y="187.6" font-size="7.3" text-anchor="middle" font-weight="normal" fill="#111" textLength="16.2" lengthAdjust="spacingAndGlyphs" stroke="#111" stroke-width="0.2">24hr</text>
<circle cx="464.2" cy="139.3" r="1.3" fill="#000"/>
<rect x="477.8" y="106.80" width="8.4" height="4.6" fill="#fff" stroke="#000" stroke-width="0.9"/>
<text x="490" y="111.5" font-size="5.7" text-anchor="start" font-weight="normal" fill="#111" stroke="#111" stroke-width="0.22">Vehicle</text>
<rect x="477.8" y="115.10" width="8.4" height="4.6" fill="#7a7a7a" stroke="#000" stroke-width="0.9"/>
<text x="490" y="119.80000000000001" font-size="5.7" text-anchor="start" font-weight="normal" fill="#111" stroke="#111" stroke-width="0.22">2.5mpk</text>
<rect x="477.8" y="122.90" width="8.4" height="4.6" fill="#3c3c3c" stroke="#000" stroke-width="0.9"/>
<text x="490" y="127.60000000000001" font-size="5.7" text-anchor="start" font-weight="normal" fill="#111" stroke="#111" stroke-width="0.22">5mpk</text>
<rect x="477.8" y="131.10" width="8.4" height="4.6" fill="#0a0a0a" stroke="#000" stroke-width="0.9"/>
<text x="490" y="135.8" font-size="5.7" text-anchor="start" font-weight="normal" fill="#111" stroke="#111" stroke-width="0.22">10mpk</text>
<text x="1.5" y="195.6" font-size="11.7" text-anchor="start" font-weight="bold" fill="#000" textLength="6.6" lengthAdjust="spacingAndGlyphs" >E</text>
<path d="M11.4,206 V327.7 H131" fill="none" stroke="#000" stroke-width="1.6"/>
<path d="M11.4,203.4 L14.5,208.70000000000002 L11.4,207.5 L8.3,208.70000000000002 Z" fill="#000" stroke="#000" stroke-width="0.5" stroke-linejoin="round"/>
<path d="M134.4,327.7 L129.1,324.7 L130.3,327.7 L129.1,330.7 Z" fill="#000" stroke="#000" stroke-width="0.5" stroke-linejoin="round"/>
<path d="M151.8,206 V327.7 H272" fill="none" stroke="#000" stroke-width="1.6"/>
<path d="M151.8,202.8 L154.9,208.10000000000002 L151.8,206.9 L148.70000000000002,208.10000000000002 Z" fill="#000" stroke="#000" stroke-width="0.5" stroke-linejoin="round"/>
<path d="M275.4,327.7 L270.09999999999997,324.7 L271.29999999999995,327.7 L270.09999999999997,330.7 Z" fill="#000" stroke="#000" stroke-width="0.5" stroke-linejoin="round"/>
<rect x="31.0" y="201.7" width="105.4" height="104.6" fill="none" stroke="#8a8a8a" stroke-width="0.7"/>
<rect x="170.6" y="201.7" width="105.4" height="104.6" fill="none" stroke="#8a8a8a" stroke-width="0.7"/>
<g filter="url(#b3)"><ellipse cx="116" cy="247" rx="15" ry="29" fill="#d8d8d8" transform="rotate(8 116 247)"/></g>
<g filter="url(#b2)"><ellipse cx="108" cy="262" rx="5" ry="16" fill="#cccccc"/><ellipse cx="123" cy="236" rx="6" ry="16" fill="#c0c0c0" transform="rotate(8 123 236)"/><ellipse cx="116" cy="226" rx="7" ry="7" fill="#cccccc"/></g>
<g filter="url(#b1)"><ellipse cx="120.8" cy="236" rx="2.6" ry="14" fill="#7c7c7c" transform="rotate(8 120.8 236)"/><ellipse cx="113.4" cy="255" rx="3" ry="23" fill="#6e6e6e" transform="rotate(3 113.4 255)"/></g>
<g filter="url(#b1)"><ellipse cx="113.0" cy="251.5" rx="1.9" ry="10" fill="#1a1a1a"/></g>
<g filter="url(#b2)"><ellipse cx="70" cy="274" rx="17" ry="5" fill="#d0d0d0" transform="rotate(-18 70 274)"/><ellipse cx="62" cy="278" rx="6" ry="3" fill="#bbb"/></g>
<ellipse cx="72.3" cy="273.4" rx="24.5" ry="10.5" fill="none" stroke="#000" stroke-width="0.7" transform="rotate(-16 72.3 273.4)"/>
<path d="M65,264.3 L170.6,201.7 M66.2,285 L170.6,306.3" stroke="#000" stroke-width="0.7"/>
<text x="54.3" y="253.4" font-size="5.9" text-anchor="start" font-weight="normal" fill="#111" textLength="11.8" lengthAdjust="spacingAndGlyphs" stroke="#111" stroke-width="0.15">MPs</text>
<g fill="#5a5a5a" font-size="5.2"><text x="26.6" y="213.90" text-anchor="end">10<tspan font-size="3.8" dy="-2.6">5</tspan></text><text x="26.6" y="238.50" text-anchor="end">10<tspan font-size="3.8" dy="-2.6">4</tspan></text><text x="26.6" y="266.50" text-anchor="end">10<tspan font-size="3.8" dy="-2.6">3</tspan></text><text x="26.6" y="305.30" text-anchor="end">-10<tspan font-size="3.8" dy="-2.6">3</tspan></text><text x="33.00" y="319.10">-10<tspan font-size="3.8" dy="-2.6">3</tspan></text><text x="53.40" y="318.20" text-anchor="middle" font-size="4.8">0</text><text x="70.00" y="319.10">10<tspan font-size="3.8" dy="-2.6">3</tspan></text><text x="98.80" y="319.10">10<tspan font-size="3.8" dy="-2.6">4</tspan></text><text x="123.00" y="319.10">10<tspan font-size="3.8" dy="-2.6">5</tspan></text></g>
<path d="M27.6,211.40 H31.0 M27.6,236.00 H31.0 M27.6,264.00 H31.0 M27.6,302.80 H31.0 M35.30,306.29999999999995 V309.29999999999995 M53.40,306.29999999999995 V309.29999999999995 M72.20,306.29999999999995 V309.29999999999995 M101.00,306.29999999999995 V309.29999999999995 M125.20,306.29999999999995 V309.29999999999995" stroke="#333" stroke-width="0.6"/>
<path d="M31.0,228.59 h1 M31.0,255.57 h1 M80.87,306.29999999999995 v-1 M108.28,306.29999999999995 v-1 M31.0,224.26 h1 M31.0,250.64 h1 M85.94,306.29999999999995 v-1 M112.55,306.29999999999995 v-1 M31.0,221.19 h1 M31.0,247.14 h1 M89.54,306.29999999999995 v-1 M115.57,306.29999999999995 v-1 M31.0,218.81 h1 M31.0,244.43 h1 M92.33,306.29999999999995 v-1 M117.92,306.29999999999995 v-1 M31.0,216.86 h1 M31.0,242.21 h1 M94.61,306.29999999999995 v-1 M119.83,306.29999999999995 v-1 M31.0,215.21 h1 M31.0,240.34 h1 M96.54,306.29999999999995 v-1 M121.45,306.29999999999995 v-1 M31.0,213.78 h1 M31.0,238.71 h1 M98.21,306.29999999999995 v-1 M122.85,306.29999999999995 v-1 M31.0,212.53 h1 M31.0,237.28 h1 M99.68,306.29999999999995 v-1 M124.09,306.29999999999995 v-1" stroke="#888" stroke-width="0.4"/>
<path d="M27.7,281.29999999999995 h3.3 M27.7,282.6 h3.3 M27.7,283.9 h3.3" stroke="#111" stroke-width="0.8"/>
<rect x="51.2" y="306.5" width="4.2" height="2.2" fill="#111"/>
<g fill="#5a5a5a" font-size="5.2"><text x="166.2" y="213.90" text-anchor="end">10<tspan font-size="3.8" dy="-2.6">5</tspan></text><text x="166.2" y="238.50" text-anchor="end">10<tspan font-size="3.8" dy="-2.6">4</tspan></text><text x="166.2" y="266.50" text-anchor="end">10<tspan font-size="3.8" dy="-2.6">3</tspan></text><text x="166.2" y="305.30" text-anchor="end">-10<tspan font-size="3.8" dy="-2.6">3</tspan></text><text x="172.60" y="319.10">-10<tspan font-size="3.8" dy="-2.6">3</tspan></text><text x="193.00" y="318.20" text-anchor="middle" font-size="4.8">0</text><text x="209.60" y="319.10">10<tspan font-size="3.8" dy="-2.6">3</tspan></text><text x="238.40" y="319.10">10<tspan font-size="3.8" dy="-2.6">4</tspan></text><text x="262.60" y="319.10">10<tspan font-size="3.8" dy="-2.6">5</tspan></text></g>
<path d="M167.2,211.40 H170.6 M167.2,236.00 H170.6 M167.2,264.00 H170.6 M167.2,302.80 H170.6 M174.90,306.29999999999995 V309.29999999999995 M193.00,306.29999999999995 V309.29999999999995 M211.80,306.29999999999995 V309.29999999999995 M240.60,306.29999999999995 V309.29999999999995 M264.80,306.29999999999995 V309.29999999999995" stroke="#333" stroke-width="0.6"/>
<path d="M170.6,228.59 h1 M170.6,255.57 h1 M220.47,306.29999999999995 v-1 M247.88,306.29999999999995 v-1 M170.6,224.26 h1 M170.6,250.64 h1 M225.54,306.29999999999995 v-1 M252.15,306.29999999999995 v-1 M170.6,221.19 h1 M170.6,247.14 h1 M229.14,306.29999999999995 v-1 M255.17,306.29999999999995 v-1 M170.6,218.81 h1 M170.6,244.43 h1 M231.93,306.29999999999995 v-1 M257.52,306.29999999999995 v-1 M170.6,216.86 h1 M170.6,242.21 h1 M234.21,306.29999999999995 v-1 M259.43,306.29999999999995 v-1 M170.6,215.21 h1 M170.6,240.34 h1 M236.14,306.29999999999995 v-1 M261.05,306.29999999999995 v-1 M170.6,213.78 h1 M170.6,238.71 h1 M237.81,306.29999999999995 v-1 M262.45,306.29999999999995 v-1 M170.6,212.53 h1 M170.6,237.28 h1 M239.28,306.29999999999995 v-1 M263.69,306.29999999999995 v-1" stroke="#888" stroke-width="0.4"/>
<path d="M167.29999999999998,281.29999999999995 h3.3 M167.29999999999998,282.6 h3.3 M167.29999999999998,283.9 h3.3" stroke="#111" stroke-width="0.8"/>
<rect x="190.79999999999998" y="306.5" width="4.2" height="2.2" fill="#111"/>
<text x="8.2" y="261.75" font-size="7.6" text-anchor="middle" font-weight="bold" fill="#000" textLength="11.9" lengthAdjust="spacingAndGlyphs" transform="rotate(-90 8.2 261.75)" >SSC</text>
<text x="148.9" y="261.7" font-size="7.6" text-anchor="middle" font-weight="bold" fill="#000" textLength="11.0" lengthAdjust="spacingAndGlyphs" transform="rotate(-90 148.9 261.7)" >SSC</text>
<text x="69.6" y="339.1" font-size="7.5" text-anchor="middle" font-weight="bold" fill="#000" textLength="11.8" lengthAdjust="spacingAndGlyphs" >FSC</text>
<text x="215.4" y="339.4" font-size="7.2" text-anchor="middle" font-weight="bold" fill="#111" textLength="48.8" lengthAdjust="spacingAndGlyphs" >Glycophorin-A</text>
<g filter="url(#b1)"><ellipse cx="193.6" cy="283.2" rx="5" ry="2.4" fill="#999"/></g>
<g filter="url(#b05)"><ellipse cx="193.9" cy="283.1" rx="1.9" ry="1.1" fill="#000"/></g>
<g filter="url(#b1)"><ellipse cx="213.5" cy="282.4" rx="7" ry="3" fill="#e8e8e8"/></g>
<ellipse cx="213.3" cy="282.1" rx="9.6" ry="5.1" fill="none" stroke="#000" stroke-width="0.75"/>
<text x="215.4" y="270.2" font-size="5.9" text-anchor="middle" font-weight="normal" fill="#111" textLength="16.5" lengthAdjust="spacingAndGlyphs" stroke="#111" stroke-width="0.15">EMPs</text>
<text x="294.0" y="195.4" font-size="11.7" text-anchor="start" font-weight="bold" fill="#000" textLength="5.7" lengthAdjust="spacingAndGlyphs" >F</text>
<path d="M311.8,197.2 V277.6 H432.5" fill="none" stroke="#000" stroke-width="0.9"/>
<path d="M309.8,277.60 H311.8" stroke="#000" stroke-width="0.7"/>
<text x="309.2" y="279.3" font-size="4.8" text-anchor="end" font-weight="normal" fill="#333" >0</text>
<path d="M309.8,257.50 H311.8" stroke="#000" stroke-width="0.7"/>
<text x="309.2" y="259.2" font-size="4.8" text-anchor="end" font-weight="normal" fill="#333" >1</text>
<path d="M309.8,237.40 H311.8" stroke="#000" stroke-width="0.7"/>
<text x="309.2" y="239.10000000000002" font-size="4.8" text-anchor="end" font-weight="normal" fill="#333" >2</text>
<path d="M309.8,217.30 H311.8" stroke="#000" stroke-width="0.7"/>
<text x="309.2" y="219.0" font-size="4.8" text-anchor="end" font-weight="normal" fill="#333" >3</text>
<path d="M309.8,197.20 H311.8" stroke="#000" stroke-width="0.7"/>
<text x="309.2" y="198.9" font-size="4.8" text-anchor="end" font-weight="normal" fill="#333" >4</text>
<text x="289.8" y="237.75" font-size="7.2" text-anchor="middle" font-weight="normal" fill="#111" textLength="65.5" lengthAdjust="spacingAndGlyphs" transform="rotate(-90 289.8 237.75)" stroke="#111" stroke-width="0.15"># Microparticles/uL</text>
<text x="297.9" y="237.7" font-size="7.2" text-anchor="middle" font-weight="normal" fill="#111" textLength="64.8" lengthAdjust="spacingAndGlyphs" transform="rotate(-90 297.9 237.7)" stroke="#111" stroke-width="0.15">blood (fold change)</text>
<path d="M322.80,257.30 V254.40 M320.60,254.40 H325.00" stroke="#000" stroke-width="0.95"/>
<rect x="318.45" y="257.75" width="8.70" height="19.85" fill="#fff" stroke="#000" stroke-width="0.9"/>
<path d="M335.90,263.20 V260.50 M333.70,260.50 H338.10" stroke="#000" stroke-width="0.95"/>
<rect x="331.55" y="263.65" width="8.70" height="13.95" fill="#000" stroke="#000" stroke-width="0.9"/>
<path d="M349.00,224.20 V212.30 M346.80,212.30 H351.20" stroke="#000" stroke-width="0.95"/>
<rect x="344.65" y="224.65" width="8.70" height="52.95" fill="#cfcfcf" stroke="#000" stroke-width="0.9"/>
<path d="M362.10,256.00 V252.50 M359.90,252.50 H364.30" stroke="#000" stroke-width="0.95"/>
<rect x="357.75" y="256.45" width="8.70" height="21.15" fill="#6a6a6a" stroke="#000" stroke-width="0.9"/>
<path d="M383.00,257.30 V252.60 M380.80,252.60 H385.20" stroke="#000" stroke-width="0.95"/>
<rect x="378.65" y="257.75" width="8.70" height="19.85" fill="#fff" stroke="#000" stroke-width="0.9"/>
<path d="M396.10,266.50 V263.70 M393.90,263.70 H398.30" stroke="#000" stroke-width="0.95"/>
<rect x="391.75" y="266.95" width="8.70" height="10.65" fill="#000" stroke="#000" stroke-width="0.9"/>
<path d="M409.20,246.40 V240.70 M407.00,240.70 H411.40" stroke="#000" stroke-width="0.95"/>
<rect x="404.85" y="246.85" width="8.70" height="30.75" fill="#cfcfcf" stroke="#000" stroke-width="0.9"/>
<path d="M422.30,265.60 V263.30 M420.10,263.30 H424.50" stroke="#000" stroke-width="0.95"/>
<rect x="417.95" y="266.05" width="8.70" height="11.55" fill="#6a6a6a" stroke="#000" stroke-width="0.9"/>
<path d="M342.1,277.6 V279.8 M402.5,277.6 V279.8" stroke="#000" stroke-width="0.6"/>
<circle cx="349" cy="205.6" r="1.5" fill="#000"/>
<text x="341.6" y="287.2" font-size="5.8" text-anchor="middle" font-weight="normal" fill="#111" textLength="11.8" lengthAdjust="spacingAndGlyphs" >MPs</text>
<text x="402.4" y="287.4" font-size="5.8" text-anchor="middle" font-weight="normal" fill="#111" textLength="15.6" lengthAdjust="spacingAndGlyphs" >EMPs</text>
<rect x="316.1" y="290.8" width="52.4" height="28.7" fill="none" stroke="#000" stroke-width="0.8"/>
<path d="M316.1,305.2 h52.4 M329.20,290.8 v28.7 M342.30,290.8 v28.7 M355.40,290.8 v28.7" stroke="#000" stroke-width="0.8"/>
<path d="M347.35,299.7 h3 M348.85,298.20 v3" stroke="#000" stroke-width="0.9"/>
<path d="M360.45,299.7 h3 M361.95000000000005,298.20 v3" stroke="#000" stroke-width="0.9"/>
<path d="M334.25,313.8 h3 M335.75,312.30 v3" stroke="#000" stroke-width="0.9"/>
<path d="M360.45,313.8 h3 M361.95000000000005,312.30 v3" stroke="#000" stroke-width="0.9"/>
<rect x="377.0" y="290.8" width="52.4" height="28.7" fill="none" stroke="#000" stroke-width="0.8"/>
<path d="M377.0,305.2 h52.4 M390.10,290.8 v28.7 M403.20,290.8 v28.7 M416.30,290.8 v28.7" stroke="#000" stroke-width="0.8"/>
<path d="M408.25,299.7 h3 M409.75,298.20 v3" stroke="#000" stroke-width="0.9"/>
<path d="M421.35,299.7 h3 M422.85,298.20 v3" stroke="#000" stroke-width="0.9"/>
<path d="M395.15,313.8 h3 M396.65,312.30 v3" stroke="#000" stroke-width="0.9"/>
<path d="M421.35,313.8 h3 M422.85,312.30 v3" stroke="#000" stroke-width="0.9"/>
<text x="285.1" y="299.8" font-size="7" text-anchor="start" font-weight="normal" fill="#111" textLength="26.5" lengthAdjust="spacingAndGlyphs" stroke="#111" stroke-width="0.3">Hypoxia</text>
<text x="285.6" y="313.9" font-size="7" text-anchor="start" font-weight="normal" fill="#111" textLength="17.9" lengthAdjust="spacingAndGlyphs" stroke="#111" stroke-width="0.3">Amit.</text>
<rect x="440.4" y="200.50" width="9.8" height="4.8" fill="#fff" stroke="#000" stroke-width="0.9"/>
<text x="459.4" y="205.4" font-size="7" text-anchor="start" font-weight="normal" fill="#111" textLength="60" lengthAdjust="spacingAndGlyphs" stroke="#111" stroke-width="0.15">Normoxia - Saline</text>
<rect x="440.4" y="209.60" width="9.8" height="4.8" fill="#000" stroke="#000" stroke-width="0.9"/>
<text x="459.4" y="214.6" font-size="7" text-anchor="start" font-weight="normal" fill="#111" textLength="59.6" lengthAdjust="spacingAndGlyphs" stroke="#111" stroke-width="0.15">Normoxia &#8211; Amit.</text>
<rect x="440.4" y="219.10" width="9.8" height="4.8" fill="#cfcfcf" stroke="#000" stroke-width="0.9"/>
<text x="459.4" y="224.0" font-size="7" text-anchor="start" font-weight="normal" fill="#111" textLength="53.7" lengthAdjust="spacingAndGlyphs" stroke="#111" stroke-width="0.15">Hypoxia - Saline</text>
<rect x="440.4" y="228.60" width="9.8" height="4.8" fill="#6a6a6a" stroke="#000" stroke-width="0.9"/>
<text x="459.4" y="233.5" font-size="7" text-anchor="start" font-weight="normal" fill="#111" textLength="53.7" lengthAdjust="spacingAndGlyphs" stroke="#111" stroke-width="0.15">Hypoxia &#8211; Amit.</text>
</svg>
</body></html>
